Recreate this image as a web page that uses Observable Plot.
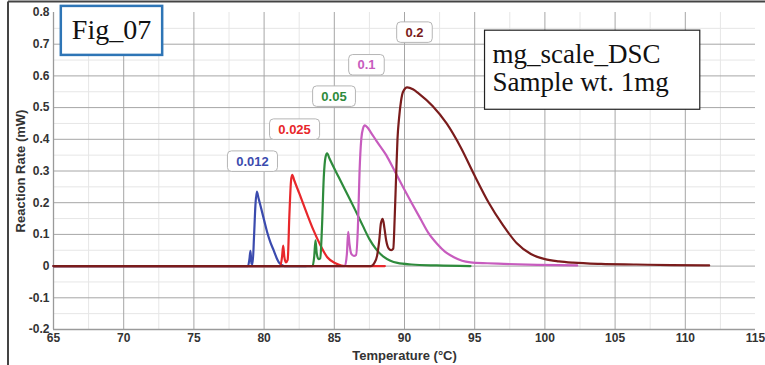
<!DOCTYPE html>
<html><head><meta charset="utf-8">
<script src="https://cdn.jsdelivr.net/npm/d3@7"></script>
<script src="https://cdn.jsdelivr.net/npm/@observablehq/plot@0.6"></script>
<style>html,body{margin:0;padding:0;background:#fff}svg{display:block}</style>
</head><body><div id="chart"></div>
<script>
// ---- data ----
const seriesNames = ["0.012", "0.025", "0.05", "0.1", "0.2"];
const seriesColors = ["#3b4bae", "#e8272b", "#2e8b3c", "#c75cbe", "#7a1c1c"];

const T012 = [65, 78.85, 78.95, 79.03, 79.1, 79.18, 79.28, 79.38, 79.48, 79.6, 79.74, 80.0, 80.22, 80.45, 80.69, 80.9, 81.05, 81.25, 81.45, 83.0];
const R012 = [0, 0, 0.02, 0.048, 0.008, 0.006, 0.09, 0.19, 0.235, 0.215, 0.191, 0.145, 0.107, 0.075, 0.049, 0.025, 0.012, 0.004, 0, 0];

const T025 = [65, 81.15, 81.28, 81.36, 81.44, 81.55, 81.68, 81.8, 81.92, 82.0, 82.15, 82.5, 83.07, 83.5, 84.02, 84.5, 85.08, 85.5, 86.0, 88.6];
const R025 = [0, 0, 0.03, 0.065, 0.03, 0.012, 0.02, 0.16, 0.27, 0.288, 0.27, 0.23, 0.163, 0.115, 0.065, 0.028, 0.009, 0.002, 0, 0];

const T05 = [65, 83.45, 83.57, 83.66, 83.75, 83.88, 84.0, 84.12, 84.25, 84.38, 84.49, 84.65, 85.32, 86.0, 86.51, 87.0, 87.5, 88.0, 88.5, 89.0, 89.5, 90.5, 92.3, 94.7];
const R05 = [0, 0, 0.03, 0.081, 0.04, 0.022, 0.025, 0.12, 0.28, 0.345, 0.356, 0.34, 0.28, 0.22, 0.175, 0.13, 0.085, 0.052, 0.03, 0.017, 0.01, 0.005, 0.002, 0];

const T1 = [65, 85.75, 85.9, 85.99, 86.08, 86.2, 86.4, 86.55, 86.68, 86.8, 86.92, 87.05, 87.17, 87.35, 87.6, 88.0, 88.7, 89.3, 89.96, 90.5, 91.14, 91.7, 92.33, 92.9, 93.52, 94.1, 94.7, 95.89, 97.07, 99.45, 102.3];
const R1 = [0, 0, 0.04, 0.108, 0.07, 0.04, 0.032, 0.035, 0.12, 0.3, 0.4, 0.435, 0.444, 0.438, 0.422, 0.395, 0.35, 0.3, 0.244, 0.2, 0.149, 0.105, 0.07, 0.045, 0.028, 0.017, 0.012, 0.009, 0.007, 0.004, 0.002];

const T2 = [65, 87.6, 87.85, 88.05, 88.2, 88.32, 88.45, 88.57, 88.7, 88.88, 89.05, 89.2, 89.3, 89.4, 89.5, 89.62, 89.75, 89.9, 90.19, 90.6, 91.0, 92.0, 93.0, 94.0, 95.0, 96.0, 97.0, 98.0, 99.0, 100.0, 101.0, 102.0, 104.0, 106.5, 109.0, 111.7];
const R2 = [0, 0, 0.01, 0.033, 0.08, 0.135, 0.149, 0.12, 0.08, 0.055, 0.05, 0.055, 0.15, 0.28, 0.4, 0.47, 0.52, 0.55, 0.564, 0.558, 0.545, 0.505, 0.45, 0.375, 0.285, 0.2, 0.13, 0.072, 0.038, 0.022, 0.015, 0.011, 0.007, 0.005, 0.003, 0.002];

const labelX = [79.17, 82.17, 84.98, 87.29, 90.71];
const labelY = [0.33, 0.431, 0.535, 0.634, 0.737];

const xTicks = [65, 70, 75, 80, 85, 90, 95, 100, 105, 110, 115];
const yTicks = [-0.2, -0.1, 0, 0.1, 0.2, 0.3, 0.4, 0.5, 0.6, 0.7, 0.8];
const xMinor = [67.5, 72.5, 77.5, 82.5, 87.5, 92.5, 97.5, 102.5, 107.5, 112.5];
const yMinor = [-0.15, -0.05, 0.05, 0.15, 0.25, 0.35, 0.45, 0.55, 0.65, 0.75];
const xGrid = [70, 75, 80, 85, 90, 95, 100, 105, 110];
const yGrid = [-0.1, 0, 0.1, 0.2, 0.3, 0.4, 0.5, 0.6, 0.7];

const figTitle = "Fig_07";
const figX = 69.13, figY = 0.745;
const infoText = "mg_scale_DSC\nSample wt. 1mg";
const infoX = 96.27, infoY = 0.703;

// ---- build tables ----
const allT = [T012, T025, T05, T1, T2];
const allR = [R012, R025, R05, R1, R2];
const rows = [];
seriesNames.forEach((s, i) => allT[i].forEach((t, j) => rows.push({T: t, R: allR[i][j], s})));
const labels = seriesNames.map((s, i) => ({x: labelX[i], y: labelY[i], s}));

const chart = Plot.plot({
  width: 765, height: 365,
  marginLeft: 53, marginRight: 10, marginTop: 12, marginBottom: 36,
  style: {fontFamily: "'Liberation Sans', Arial, sans-serif", fontSize: "12px", fontWeight: "bold", color: "#333", background: "#fff"},
  x: {domain: [65, 115]},
  y: {domain: [-0.2, 0.8]},
  color: {domain: seriesNames, range: seriesColors},
  marks: [
    Plot.gridX(xMinor, {stroke: "#e6e6e6", strokeOpacity: 1}),
    Plot.gridY(yMinor, {stroke: "#e6e6e6", strokeOpacity: 1}),
    Plot.gridX(xGrid, {stroke: "#a6a6a6", strokeOpacity: 1}),
    Plot.gridY(yGrid, {stroke: "#a6a6a6", strokeOpacity: 1}),
    Plot.ruleX([65], {stroke: "#9a9a9a", strokeWidth: 1.3}),
    Plot.ruleY([-0.2], {stroke: "#9a9a9a", strokeWidth: 1.3}),
    Plot.axisX(xTicks, {tickSize: 0, tickPadding: 4, label: "Temperature (°C)", labelAnchor: "center", labelArrow: "none", labelOffset: 30}),
    Plot.axisY(yTicks, {tickSize: 0, tickPadding: 4, tickFormat: d => d === 0 ? "0" : d.toFixed(1), label: "Reaction Rate (mW)", labelAnchor: "center", labelArrow: "none", labelOffset: 38}),
    Plot.line(rows, {x: "T", y: "R", z: "s", stroke: "s", strokeWidth: 2.2, curve: "monotone-x"}),
    Plot.text(labels, {x: "x", y: "y", text: "s", fill: "s", fontSize: 13, fontWeight: "bold"}),
    Plot.text([figTitle], {x: () => figX, y: () => figY, text: d => d, fontFamily: "'Liberation Serif', 'Times New Roman', serif", fontWeight: "normal", fontSize: 28, fill: "#111"}),
    Plot.text([infoText], {x: () => infoX, y: () => infoY, text: d => d, textAnchor: "start", lineAnchor: "top", lineHeight: 1.04, fontFamily: "'Liberation Serif', 'Times New Roman', serif", fontWeight: "normal", fontSize: 27, fill: "#111"})
  ]
});
document.getElementById("chart").appendChild(chart);

// axis label sizes
const svg = d3.select(chart);
svg.selectAll('g[aria-label="x-axis label"] text, g[aria-label="y-axis label"] text').attr("font-size", "13px");

// boxes behind annotation texts
svg.selectAll('g[aria-label="text"] text').each(function () {
  const t = this.textContent;
  const b = this.getBBox();
  let l, r, tp, bt, stroke, sw, rx;
  if (t.startsWith("Fig")) { l = 11; r = 11; tp = 8; bt = 10; stroke = "#2e75b6"; sw = 2.5; rx = 0; }
  else if (t.startsWith("mg_")) { l = 8; r = 31; tp = 9; bt = 12; stroke = "#222"; sw = 1.2; rx = 0; }
  else { l = 8.75; r = 8.75; tp = 2.75; bt = 2.75; stroke = "#b5b5b5"; sw = 1; rx = 4; }
  const rect = document.createElementNS("http://www.w3.org/2000/svg", "rect");
  rect.setAttribute("x", b.x - l);
  rect.setAttribute("y", b.y - tp);
  rect.setAttribute("width", b.width + l + r);
  rect.setAttribute("height", b.height + tp + bt);
  rect.setAttribute("rx", rx);
  rect.setAttribute("fill", "#fff");
  rect.setAttribute("stroke", stroke);
  rect.setAttribute("stroke-width", sw);
  if (this.getAttribute("transform")) rect.setAttribute("transform", this.getAttribute("transform"));
  this.parentNode.insertBefore(rect, this);
});

// outer frame lines
svg.append("line").attr("x1", 8).attr("x2", 765).attr("y1", 1.5).attr("y2", 1.5).attr("stroke", "#444").attr("stroke-width", 2);
svg.append("line").attr("x1", 8).attr("x2", 8).attr("y1", 1.5).attr("y2", 365).attr("stroke", "#444").attr("stroke-width", 2);
</script></body></html>
